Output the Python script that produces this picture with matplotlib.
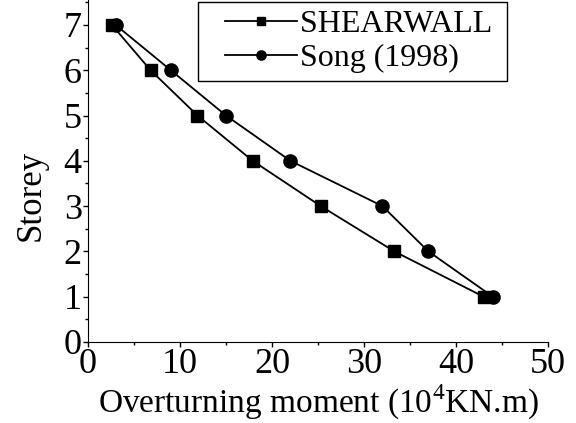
import matplotlib.pyplot as plt
from matplotlib.lines import Line2D
from matplotlib.legend_handler import HandlerLine2D
from matplotlib.ticker import MultipleLocator

plt.rcParams['font.family'] = 'Liberation Serif'
plt.rcParams['mathtext.fontset'] = 'custom'
plt.rcParams['mathtext.rm'] = 'Liberation Serif'

storey = [7, 6, 5, 4, 3, 2, 1]
shearwall = [2.6, 6.8, 11.9, 17.9, 25.3, 33.3, 43.0]
song = [3.0, 9.0, 15.0, 22.0, 32.0, 37.0, 44.0]

fig = plt.figure(figsize=(5.76, 4.23), dpi=100)
ax = fig.add_axes([88 / 576, 1 - 342 / 423, 460 / 576, 342 / 423])

ax.plot(shearwall, storey, 'k-', marker='s', ms=8.5, lw=1.3, label='SHEARWALL ')
ax.plot(song, storey, 'k-', marker='o', ms=9.5, lw=1.3, label='Song (1998)')

ax.set_xlim(0, 50)
ax.set_ylim(0, 7.55)
ax.xaxis.set_major_locator(MultipleLocator(10))
ax.xaxis.set_minor_locator(MultipleLocator(5))
ax.yaxis.set_major_locator(MultipleLocator(1))
ax.yaxis.set_minor_locator(MultipleLocator(0.5))
ax.tick_params(which='major', direction='out', length=3.5, width=1, labelsize=26, pad=1)
ax.tick_params(which='minor', direction='out', length=2.5, width=1)
ax.spines['top'].set_visible(False)
ax.spines['right'].set_visible(False)

ax.set_xlabel('Overturning moment (10$^4$KN.m)', fontsize=24)
ax.xaxis.set_label_coords(0.5, -0.12)
ax.set_ylabel('Storey', fontsize=25)
ax.yaxis.set_label_coords(-0.087, 0.43)

leg = ax.legend(loc='upper left', bbox_to_anchor=(0.239, 0.995), borderaxespad=0,
                fontsize=23, handlelength=2.85, handletextpad=0.1, labelspacing=0.15,
                borderpad=0.25, markerscale=0.7, fancybox=False, edgecolor='k',
                framealpha=1,
                handler_map={Line2D: HandlerLine2D(xpad=0.6)})
leg.get_frame().set_linewidth(1)

fig.savefig('out.png', dpi=100)
